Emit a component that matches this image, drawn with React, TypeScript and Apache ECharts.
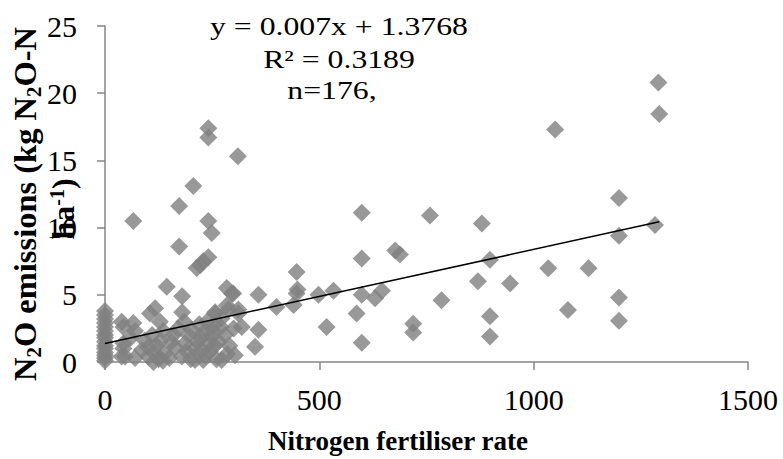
import React, { useEffect, useRef } from "react";
import * as echarts from "echarts";

// Nitrogen fertiliser rate (x) and N2O emissions (y)
const nRate: number[] = [
  0, 0, 0, 0, 0, 0, 0, 0, 0, 0, 0, 0, 0, 0, 0,
  39, 43, 66, 70, 43, 43, 39, 47, 66, 70, 60,
  86, 93, 101, 105, 113, 117, 128, 136, 140, 120, 110, 125, 130, 100, 115, 135,
  144, 163, 173, 173, 180, 180, 179, 187, 160, 170, 150, 190, 195, 200, 155, 185,
  202, 206, 210, 214, 222, 229, 226, 229, 241, 241, 241, 249, 241, 241, 249, 253, 257, 257,
  215, 220, 230, 235, 245, 250, 255, 260, 210, 225, 238,
  272, 272, 284, 284, 288, 296, 299, 303, 310, 311, 311, 319, 265, 280, 290, 300, 270, 285,
  350, 358, 358, 400,
  447, 449, 440, 447,
  498, 517, 533, 587, 599, 599, 599, 599, 630, 646, 677, 688, 719, 719, 758, 785,
  870, 879, 898, 898, 898, 945, 1034, 1050, 1080, 1128, 1199, 1199, 1199, 1199, 1283, 1291, 1293,
];
const n2o: number[] = [
  0.1, 0.3, 0.5, 0.7, 1.0, 1.2, 1.5, 1.8, 2.0, 2.3, 2.6, 2.9, 3.2, 3.5, 3.8,
  3.0, 2.6, 2.9, 2.3, 1.4, 1.0, 0.4, 0.4, 10.5, 0.3, 1.8,
  0.9, 1.6, 0.4, 3.6, 0.0, 4.0, 3.0, 2.3, 0.65, 1.2, 2.0, 0.2, 1.6, 1.1, 0.7, 0.1,
  5.6, 1.1, 11.6, 8.6, 4.9, 3.7, 0.4, 1.4, 2.0, 2.5, 0.3, 0.8, 2.0, 0.2, 1.5, 3.0,
  2.4, 13.1, 0.15, 7.0, 7.2, 7.5, 0.9, 0.15, 17.4, 16.7, 10.5, 9.6, 7.8, 1.4, 1.9, 2.75, 3.6, 3.7,
  1.5, 2.8, 2.2, 0.5, 0.8, 2.4, 1.2, 0.2, 1.0, 1.8, 3.0,
  3.25, 0.15, 5.5, 4.2, 3.9, 5.1, 5.1, 0.5, 15.3, 3.9, 3.6, 2.6, 1.5, 2.0, 1.2, 2.5, 2.6, 0.6,
  1.14, 5.0, 2.4, 4.1,
  6.7, 5.4, 4.24, 5.1,
  5.0, 2.6, 5.3, 3.6, 11.1, 7.7, 5.0, 1.44, 4.74, 5.3, 8.3, 8.0, 2.85, 2.2, 10.9, 4.6,
  6.0, 10.3, 7.6, 3.4, 1.9, 5.85, 6.97, 17.3, 3.87, 6.97, 12.2, 9.4, 4.8, 3.07, 10.2, 20.8, 18.45,
];

// Linear trend from the printed equation
const slope = 0.007;
const intercept = 1.3768;
const trendX: number[] = [0, 1293];

const xTicks = { min: 0, max: 1500, interval: 500 };
const yTicks = { min: 0, max: 25, interval: 5 };

const serif = "Liberation Serif";

export default function App() {
  const ref = useRef<HTMLDivElement>(null);
  useEffect(() => {
    if (!ref.current) return;
    const chart = echarts.init(ref.current, undefined, { renderer: "svg" });
    const points = nRate.map((x, i) => [x, n2o[i]]);
    const trend = trendX.map((x) => [x, slope * x + intercept]);
    const axisColor = "#868686";
    const txt = (extra: any) => ({
      fontFamily: serif,
      fill: "#000",
      align: "center",
      verticalAlign: "middle",
      textAlign: "center",
      textVerticalAlign: "middle",
      ...extra,
    });
    chart.setOption({
      animation: false,
      backgroundColor: "#fff",
      grid: { left: 105, right: 35, top: 26, bottom: 97, containLabel: false },
      xAxis: {
        type: "value",
        ...xTicks,
        splitLine: { show: false },
        axisLine: { show: true, lineStyle: { color: axisColor, width: 1.5 } },
        axisTick: { show: true, length: 8, lineStyle: { color: axisColor, width: 1.5 } },
        axisLabel: {
          fontSize: 30,
          fontFamily: serif,
          color: "#000",
          margin: 22,
          formatter: (v: number) => String(v),
        },
      },
      yAxis: {
        type: "value",
        ...yTicks,
        splitLine: { show: false },
        axisLine: { show: true, lineStyle: { color: axisColor, width: 1.5 } },
        axisTick: { show: true, length: 8, lineStyle: { color: axisColor, width: 1.5 } },
        axisLabel: {
          fontSize: 30,
          fontFamily: serif,
          color: "#000",
          margin: 28,
          formatter: (v: number) => String(v),
        },
      },
      series: [
        {
          type: "scatter",
          data: points,
          symbol: "diamond",
          symbolSize: 18,
          itemStyle: { color: "#808080" },
        },
        {
          type: "line",
          data: trend,
          showSymbol: false,
          symbol: "none",
          lineStyle: { color: "#000", width: 1.5 },
        },
      ],
      graphic: [
        {
          type: "text",
          x: 339,
          y: 27,
          scaleX: 1.27,
          style: txt({ text: "y = 0.007x + 1.3768", fontSize: 25 }),
        },
        {
          type: "text",
          x: 339,
          y: 60,
          scaleX: 1.27,
          style: txt({ text: "R² = 0.3189", fontSize: 25 }),
        },
        {
          type: "text",
          x: 332,
          y: 91,
          scaleX: 1.27,
          style: txt({ text: "n=176,", fontSize: 25 }),
        },
        {
          type: "text",
          x: 398,
          y: 441,
          style: txt({ text: "Nitrogen fertiliser rate", fontSize: 27, fontWeight: "bold" }),
        },
        {
          type: "text",
          x: 25,
          y: 204,
          rotation: Math.PI / 2,
          style: txt({
            text: "N{sub|2}O emissions (kg N{sub|2}O-N",
            fontSize: 32.5,
            fontWeight: "bold",
            rich: {
              sub: {
                fontSize: 21,
                fontWeight: "bold",
                fontFamily: serif,
                fill: "#000",
                verticalAlign: "bottom",
                lineHeight: 38,
              },
            },
          }),
        },
        {
          type: "text",
          x: 63,
          y: 209,
          rotation: Math.PI / 2,
          style: txt({
            text: "ha{sup|-1})",
            fontSize: 32,
            fontWeight: "bold",
            rich: {
              sup: {
                fontSize: 20,
                fontWeight: "bold",
                fontFamily: serif,
                fill: "#000",
                verticalAlign: "top",
                lineHeight: 30,
              },
            },
          }),
        },
      ],
    });
    return () => chart.dispose();
  }, []);
  return (
    <div
      ref={ref}
      style={{ position: "fixed", left: 0, top: 0, width: 783, height: 459 }}
    />
  );
}
